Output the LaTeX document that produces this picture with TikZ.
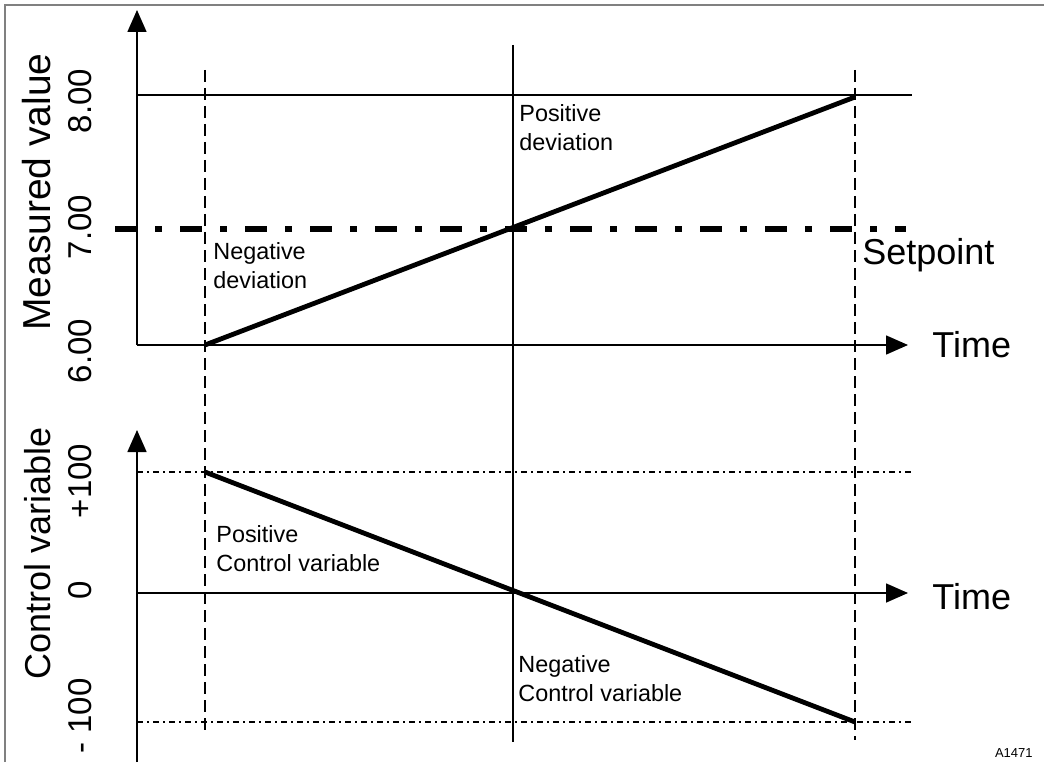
\documentclass[tikz,border=0pt]{standalone}
\usepackage{fontspec}
\setmainfont{Liberation Sans}
\usetikzlibrary{arrows.meta}
\tikzset{
	frame/.style={
		draw=black!50,
		line width=1pt
	},
	axis/.style={
		line width=0.8pt,
		-{Triangle[length=11pt, width=9.5pt]}
	},
	refline/.style={
		line width=0.7pt
	},
	limit/.style={
		line width=0.6pt,
		dash pattern=on 3pt off 2pt on 1pt off 2pt
	},
	setpointline/.style={
		line width=3pt,
		dash pattern=on 11pt off 9pt on 3.5pt off 9pt
	},
	guide/.style={
		line width=0.75pt,
		dash pattern=on 6pt off 3pt
	},
	midline/.style={
		line width=1.3pt
	},
	signal/.style={
		line width=2.4pt
	},
	bigtext/.style={
		font=\fontsize{18}{21}\selectfont
	},
	ticklabel/.style={
		rotate=90,
		font=\fontsize{16.5}{19}\selectfont
	},
	note/.style={
		align=left,
		inner sep=0pt,
		anchor=west,
		font=\fontsize{11.7}{14.5}\selectfont
	}
}

\begin{document}
\begin{tikzpicture}[x=0.5pt, y=0.5pt]
	\useasboundingbox (0,0) rectangle (1044,762);
	
	% partial frame
	\coordinate (fbl) at (5,0);
	\coordinate (ftl) at (5,757);
	\coordinate (ftr) at (1044,757);
	\draw[frame] (fbl) -- (ftl) -- (ftr);
	
	% upper diagram: measured value
	\coordinate (o1) at (137,417);
	\coordinate (ytop1) at (137,752);
	\coordinate (xend1) at (908,417);
	\coordinate (hi1l) at (137,667);
	\coordinate (hi1r) at (912,667);
	\coordinate (spl) at (115,533);
	\coordinate (spr) at (906,533);
	\coordinate (mv0) at (205,417);
	\coordinate (mv1) at (855,665);
	
	% lower diagram: control variable
	\coordinate (ybot2) at (137,0);
	\coordinate (ytop2) at (137,332);
	\coordinate (o2) at (137,169);
	\coordinate (xend2) at (908,169);
	\coordinate (pl) at (137,290);
	\coordinate (pr) at (912,290);
	\coordinate (nl) at (137,40);
	\coordinate (nr) at (912,40);
	\coordinate (cv0) at (205,290);
	\coordinate (cv1) at (855,40);
	
	% vertical guides
	\coordinate (g1t) at (205,692);
	\coordinate (g1b) at (205,27);
	\coordinate (g2t) at (855,692);
	\coordinate (g2b) at (855,22);
	\coordinate (mt) at (513,717);
	\coordinate (mb) at (513,20);
	
	\draw[guide] (g1t) -- (g1b);
	\draw[guide] (g2t) -- (g2b);
	\draw[midline] (mt) -- (mb);
	
	% axes
	\draw[axis] (o1) -- (ytop1);
	\draw[axis] (o1) -- (xend1);
	\draw[axis] (ybot2) -- (ytop2);
	\draw[axis] (o2) -- (xend2);
	
	% reference lines
	\draw[refline] (hi1l) -- (hi1r);
	\draw[setpointline] (spl) -- (spr);
	\draw[limit] (pl) -- (pr);
	\draw[limit] (nl) -- (nr);
	
	% signals
	\draw[signal] (mv0) -- (mv1);
	\draw[signal] (cv0) -- (cv1);
	
	% axis titles
	\node[bigtext, rotate=90, font=\fontsize{19.5}{22}\selectfont] (mvtitle) at (37,570) {Measured value};
	\node[bigtext, rotate=90] (cvtitle) at (38,209) {Control variable};
	\node[bigtext, anchor=west, inner sep=0pt] (time1) at (932,417) {Time};
	\node[bigtext, anchor=west, inner sep=0pt] (time2) at (932,165) {Time};
	\node[bigtext, anchor=west, inner sep=0pt] (setpoint) at (862,507) {Setpoint};
	
	% tick labels
	\foreach \val/\ypos [count=\i] in {8.00/661, 7.00/535, 6.00/411, +100/281, 0/172, - 100/46} {
		\node[ticklabel] (tick\i) at (80,\ypos) {\val};
	}
	
	% region notes
	\node[note] (posdev) at (519,634) {Positive\\deviation};
	\node[note] (negdev) at (213,496) {Negative\\deviation};
	\node[note] (poscv) at (216,213) {Positive\\Control variable};
	\node[note] (negcv) at (518,83) {Negative\\Control variable};
	
	\node[anchor=east, inner sep=0pt, font=\fontsize{6.5}{8}\selectfont] (figid) at (1033,9) {A1471};
\end{tikzpicture}
\end{document}
